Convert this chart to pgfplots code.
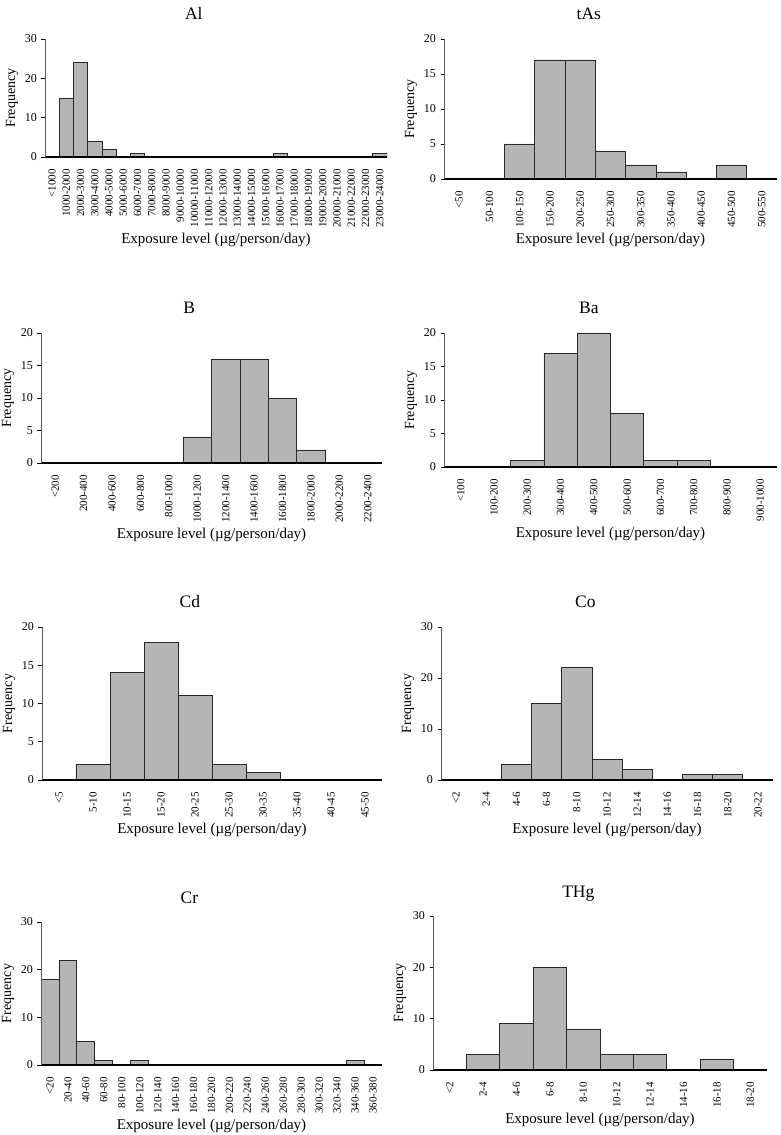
\documentclass[border=0pt]{standalone}
\usepackage{pgfplots}
\pgfplotsset{compat=1.18}
\usepackage{fontspec}
\setmainfont{Liberation Serif}
\definecolor{barfill}{RGB}{181,181,181}
\definecolor{bardraw}{RGB}{40,40,40}
\definecolor{yaxis}{RGB}{90,90,90}
\pgfplotsset{
  hist/.style={
    scale only axis,
    anchor=south west,
    axis on top,
    ybar, bar width=1,
    axis x line*=bottom,
    axis y line*=left,
    x axis line style={-, line width=1.8pt, black},
    y axis line style={-, line width=0.7pt, yaxis},
    ymin=0,
    ytick pos=left,
    tick align=outside,
    major tick length=3.5pt,
    ytick style={line width=0.6pt, black},
    xtick style={draw=none},
    /pgf/number format/assume math mode=true,
    yticklabel style={font=\fontsize{12}{13}\selectfont, xshift=-1pt},
    xticklabel style={font=\fontsize{11}{12}\selectfont, yshift=-5pt, rotate=90, anchor=east},
    xlabel={Exposure level (µg/person/day)},
    ylabel={Frequency},
    xlabel style={font=\fontsize{15}{16}\selectfont, yshift=1pt},
    ylabel style={font=\fontsize{14}{16}\selectfont},
    title style={font=\fontsize{17.5}{20}\selectfont, at={(0.435,1)}, anchor=base, yshift=13pt},
  },
  hb/.style={fill=barfill, draw=bardraw, line width=0.8pt, mark=none},
}
\begin{document}
\begin{tikzpicture}
\useasboundingbox (0,0) rectangle (780pt,1135pt);
% Al
\begin{axis}[hist, at={(45pt,978pt)}, width=342pt, height=118pt,
  title={Al}, xmin=-0.5, xmax=23.5, ymax=30, ytick={0,10,20,30},
  xtick={0,...,23},
  xticklabels={<1000,1000-2000,2000-3000,3000-4000,4000-5000,5000-6000,6000-7000,7000-8000,8000-9000,9000-10000,10000-11000,11000-12000,12000-13000,13000-14000,14000-15000,15000-16000,16000-17000,17000-18000,18000-19000,19000-20000,20000-21000,21000-22000,22000-23000,23000-24000}]
\addplot[hb] coordinates {(1,15) (2,24) (3,4) (4,2) (6,1) (16,1) (23,1)};
\end{axis}
% tAs
\begin{axis}[hist, at={(444pt,956pt)}, width=333pt, height=140pt,
  title={tAs}, xmin=-0.5, xmax=10.5, ymax=20, ytick={0,5,10,15,20},
  xtick={0,...,10},
  xticklabels={<50,50-100,100-150,150-200,200-250,250-300,300-350,350-400,400-450,450-500,500-550}]
\addplot[hb] coordinates {(2,5) (3,17) (4,17) (5,4) (6,2) (7,1) (9,2)};
\end{axis}
% B
\begin{axis}[hist, at={(41pt,672pt)}, width=341pt, height=130pt,
  title={B}, xmin=-0.5, xmax=11.5, ymax=20, ytick={0,5,10,15,20},
  xtick={0,...,11},
  xticklabels={<200,200-400,400-600,600-800,800-1000,1000-1200,1200-1400,1400-1600,1600-1800,1800-2000,2000-2200,2200-2400}]
\addplot[hb] coordinates {(5,4) (6,16) (7,16) (8,10) (9,2)};
\end{axis}
% Ba
\begin{axis}[hist, at={(444pt,668pt)}, width=333pt, height=134pt,
  title={Ba}, xmin=-0.5, xmax=9.5, ymax=20, ytick={0,5,10,15,20},
  xtick={0,...,9},
  xticklabels={<100,100-200,200-300,300-400,400-500,500-600,600-700,700-800,800-900,900-1000}]
\addplot[hb] coordinates {(2,1) (3,17) (4,20) (5,8) (6,1) (7,1)};
\end{axis}
% Cd
\begin{axis}[hist, at={(42pt,355pt)}, width=340pt, height=153pt,
  title={Cd}, xmin=-0.5, xmax=9.5, ymax=20, ytick={0,5,10,15,20},
  xtick={0,...,9},
  xticklabels={<5,5-10,10-15,15-20,20-25,25-30,30-35,35-40,40-45,45-50}]
\addplot[hb] coordinates {(1,2) (2,14) (3,18) (4,11) (5,2) (6,1)};
\end{axis}
% Co
\begin{axis}[hist, at={(441pt,355pt)}, width=332pt, height=153pt,
  title={Co}, xmin=-0.5, xmax=10.5, ymax=30, ytick={0,10,20,30},
  xtick={0,...,10},
  xticklabels={<2,2-4,4-6,6-8,8-10,10-12,12-14,14-16,16-18,18-20,20-22}]
\addplot[hb] coordinates {(2,3) (3,15) (4,22) (5,4) (6,2) (8,1) (9,1)};
\end{axis}
% Cr
\begin{axis}[hist, at={(41pt,70pt)}, width=341pt, height=143pt,
  title={Cr}, xmin=-0.5, xmax=18.5, ymax=30, ytick={0,10,20,30},
  xtick={0,...,18},
  xticklabels={<20,20-40,40-60,60-80,80-100,100-120,120-140,140-160,160-180,180-200,200-220,220-240,240-260,260-280,280-300,300-320,320-340,340-360,360-380}]
\addplot[hb] coordinates {(0,18) (1,22) (2,5) (3,1) (5,1) (17,1)};
\end{axis}
% THg
\begin{axis}[hist, at={(433pt,65pt)}, width=334pt, height=154pt,
  title={THg}, xmin=-0.5, xmax=9.5, ymax=30, ytick={0,10,20,30},
  xtick={0,...,9},
  xticklabels={<2,2-4,4-6,6-8,8-10,10-12,12-14,14-16,16-18,18-20}]
\addplot[hb] coordinates {(1,3) (2,9) (3,20) (4,8) (5,3) (6,3) (8,2)};
\end{axis}
\end{tikzpicture}
\end{document}
